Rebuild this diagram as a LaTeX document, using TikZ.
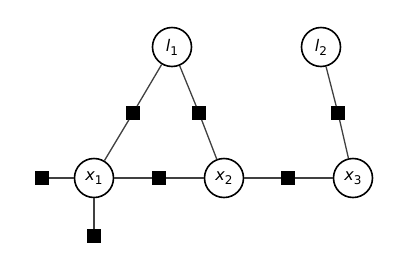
\documentclass[tikz,border=0pt]{standalone}
\usepackage{fontspec}
\setmainfont{DejaVu Sans}
\usetikzlibrary{positioning}
\newcommand{\varlabel}[2]{{\itshape #1}\raisebox{-0.45ex}{\fontsize{12}{12}\selectfont #2}}
\tikzset{
  varnode/.style={circle, draw=black, line width=1.6pt, fill=white, minimum size=39pt, inner sep=0pt, font=\fontsize{16}{16}\selectfont},
  factornode/.style={rectangle, fill=black, minimum size=13.5pt, inner sep=0pt},
  edge/.style={draw=black!75, line width=1.3pt}
}
\begin{document}
\begin{tikzpicture}[x=1pt, y=-1pt]
  \useasboundingbox (0,0) rectangle (402,266);

  % Variable nodes
  \node[varnode] (l1) at (172,47) {\varlabel{l}{1}};
  \node[varnode] (l2) at (321,47) {\varlabel{l}{2}};
  \node[varnode] (x1) at (94,178) {\varlabel{x}{1}};
  \node[varnode] (x2) at (224,178) {\varlabel{x}{2}};
  \node[varnode] (x3) at (353,178) {\varlabel{x}{3}};

  % Factor nodes
  \node[factornode] (f1) at (133,113) {};
  \node[factornode] (f2) at (199,113) {};
  \node[factornode] (f3) at (338,113) {};
  \node[factornode] (f4) at (42,178) {};
  \node[factornode] (f5) at (159,178) {};
  \node[factornode] (f6) at (288,178) {};
  \node[factornode] (f7) at (94,236) {};

  % Edges
  \foreach \a/\b in {l1/f1, f1/x1, l1/f2, f2/x2, l2/f3, f3/x3, f4/x1, x1/f5, f5/x2, x2/f6, f6/x3, x1/f7}
    \draw[edge] (\a) -- (\b);
\end{tikzpicture}
\end{document}
